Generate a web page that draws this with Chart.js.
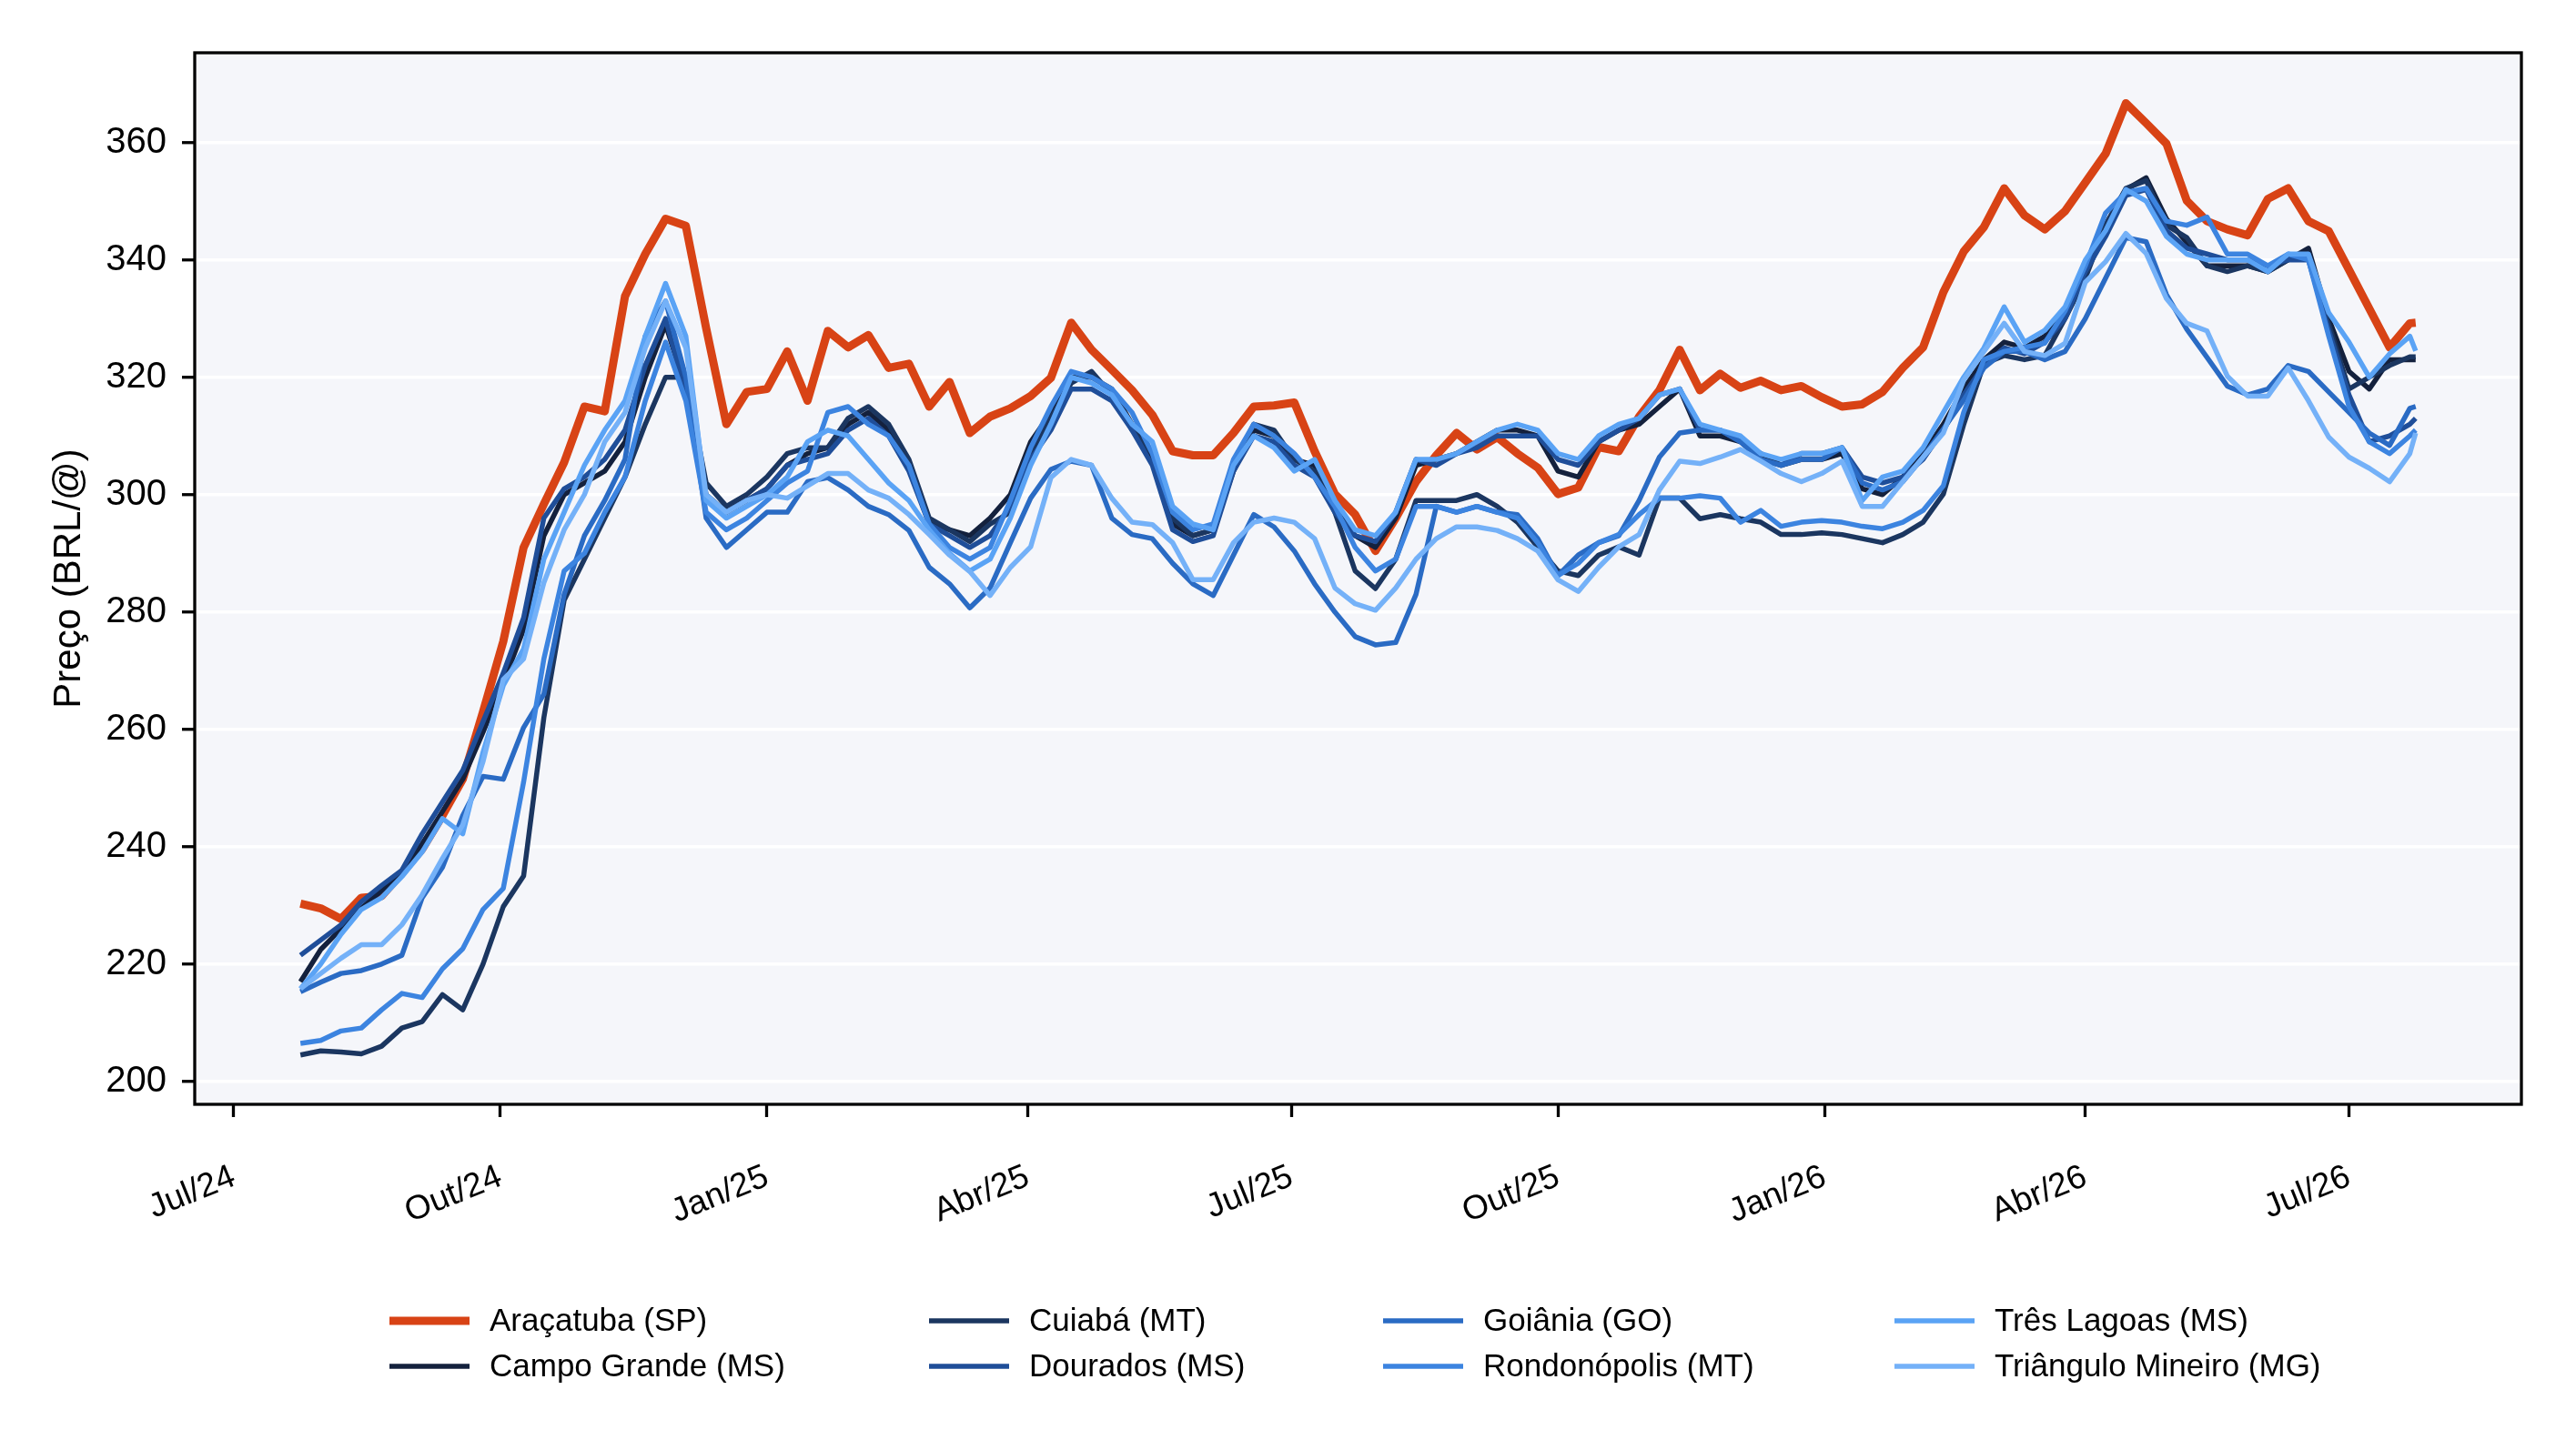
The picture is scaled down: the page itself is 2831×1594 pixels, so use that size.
<!DOCTYPE html>
<html lang="pt-BR">
<head>
<meta charset="utf-8">
<title>Preço do boi gordo por praça</title>
<script src="https://cdn.jsdelivr.net/npm/chart.js@4.4.1/dist/chart.umd.min.js"></script>
<style>
  html, body { margin: 0; padding: 0; background: #fff; }
  #wrap { width: 2831px; height: 1594px; }
</style>
</head>
<body>
<div id="wrap"><canvas id="grafico" width="2831" height="1594"></canvas></div>
<script>
// cotações semanais, de 24/07/2024 até 24/07/2026
const inicio = Date.UTC(2024, 6, 24)
const datas = []
for (let k = 0; k < 105; k++) datas.push(new Date(inicio + k * 7 * 864e5).toISOString().slice(0, 10))
datas.push('2026-07-24')

const aracatuba = [230.3,229.5,227.7,231.3,231.6,235.5,239.6,245.3,251.5,263.0, 275.0,291.0,298.4,305.5,315.0,314.2,333.8,341.0,347.0,345.8, 328.4,312.0,317.5,318.0,324.4,316.0,327.9,325.1,327.2,321.6, 322.3,315.0,319.2,310.5,313.3,314.7,316.8,319.9,329.3,324.7, 321.3,317.8,313.6,307.4,306.7,306.7,310.5,315.0,315.2,315.7, 307.4,300.1,296.6,290.4,296.0,302.2,306.7,310.5,307.7,309.8, 307.0,304.6,300.1,301.2,308.1,307.4,313.3,317.8,324.7,317.8, 320.6,318.2,319.4,317.8,318.5,316.6,315.0,315.4,317.5,321.6, 325.1,334.5,341.4,345.6,352.2,347.6,345.2,348.3,353.2,358.1, 366.7,363.3,359.8,350.1,346.6,345.2,344.2,350.4,352.2,346.6, 344.9,338.3,331.7,325.1,329.2,329.3]
const campoGrande = [217.0,222.5,226.0,229.5,232.5,235.5,240.5,246.0,251.5,259.5, 268.0,277.0,293.0,300.0,302.0,304.0,309.0,320.0,329.0,318.0, 300.0,297.0,299.0,301.0,305.0,307.0,308.0,312.0,314.0,311.0, 305.0,295.0,294.0,293.0,296.0,300.0,309.0,314.0,320.0,320.0, 318.0,312.0,306.0,295.0,293.0,294.0,304.0,311.0,310.0,306.0, 305.0,298.0,293.0,291.0,296.0,305.0,306.0,307.0,309.0,311.0, 311.0,310.0,304.0,303.0,309.0,311.0,312.0,315.0,318.0,310.0, 310.0,309.0,307.0,305.0,306.0,306.0,307.0,301.0,300.0,303.0, 307.0,312.0,318.0,323.0,326.0,325.0,327.0,331.0,339.0,346.0, 352.0,354.0,347.0,343.0,339.0,339.0,339.0,338.0,340.0,342.0, 330.0,321.0,318.0,323.0,323.0,323.0]
const cuiaba = [204.5,205.2,205.0,204.7,206.0,209.1,210.2,214.8,212.2,220.0, 229.8,235.0,262.0,282.0,289.0,296.0,303.0,312.0,320.0,320.0, 302.0,298.0,300.0,303.0,307.0,308.0,308.0,313.0,315.0,312.0, 306.0,296.0,294.0,292.0,295.0,297.0,307.0,313.0,319.0,321.0, 317.0,311.0,307.0,296.0,293.0,294.0,305.0,312.0,311.0,306.0, 304.0,297.0,287.0,284.0,289.0,299.0,299.0,299.0,300.0,298.0, 295.3,291.1,287.0,286.2,289.7,291.1,289.7,299.4,299.4,295.9, 296.6,295.9,295.3,293.2,293.2,293.5,293.2,292.5,291.8,293.2, 295.3,300.1,311.9,322.3,323.7,323.0,323.7,330.0,336.9,345.9, 352.2,353.5,345.9,343.8,339.0,338.0,339.0,338.0,340.0,341.0, 329.0,318.0,320.0,322.0,323.5,323.5]
const dourados = [221.5,224.1,226.7,230.6,233.4,236.0,242.2,247.6,253.0,261.3, 269.6,279.0,296.0,301.0,303.0,306.0,311.0,322.0,330.0,317.0, 299.0,297.0,299.0,301.0,305.0,306.0,307.0,311.0,313.0,310.0, 304.0,295.0,293.0,291.0,293.0,298.0,306.0,311.0,318.0,318.0, 316.0,311.0,305.0,294.0,292.0,293.0,304.0,310.0,309.0,305.0, 303.0,297.0,293.0,292.0,297.0,306.0,305.0,307.0,308.0,310.0, 310.0,310.0,306.0,305.0,309.0,311.0,313.0,317.0,318.0,311.0, 311.0,309.0,306.0,305.0,307.0,307.0,308.0,303.0,302.0,303.0, 306.0,311.0,317.0,322.0,325.0,324.0,326.0,330.0,338.0,344.0, 351.0,352.0,345.0,342.0,341.0,340.0,340.0,339.0,340.0,340.0, 328.0,317.0,309.0,310.0,312.0,313.0]
const goiania = [215.3,216.9,218.4,218.9,220.0,221.5,231.3,236.5,245.3,252.0, 251.5,260.3,266.0,283.0,293.0,299.0,306.0,327.0,333.0,320.0, 296.0,291.0,294.0,297.0,297.0,302.2,302.9,300.8,298.0,296.6, 293.9,287.6,284.8,280.7,284.1,291.8,299.4,304.3,305.7,305.0, 296.0,293.2,292.5,288.3,284.8,282.8,289.7,296.6,294.5,290.4, 284.8,280.0,275.8,274.4,274.8,283.0,298.0,297.0,298.0,297.0, 296.6,292.5,286.2,289.7,291.8,293.0,299.0,306.4,310.5,311.0, 311.0,309.0,306.0,305.0,306.0,306.0,308.0,302.0,300.8,302.2, 306.4,311.2,316.1,321.6,324.4,324.4,323.0,324.4,330.0,336.9, 343.8,343.1,334.1,328.2,323.4,318.5,317.0,318.0,322.0,321.0, 317.5,314.0,310.5,308.4,314.7,315.0]
const rondonopolis = [206.5,207.0,208.6,209.1,212.2,215.0,214.3,219.2,222.6,229.3, 232.9,251.0,272.0,287.0,290.0,297.0,303.0,316.0,326.0,316.0, 297.0,294.0,296.0,299.0,302.0,304.0,314.0,315.0,312.0,310.0, 305.0,295.0,291.0,289.0,291.0,299.0,308.0,315.0,321.0,320.0, 318.0,314.0,307.0,297.0,294.0,295.0,306.0,312.0,310.0,307.0, 303.0,298.0,291.0,287.0,289.0,298.0,298.0,297.0,298.0,297.0, 296.0,291.8,286.2,288.3,291.8,293.2,296.6,299.4,299.4,299.8, 299.4,295.3,297.3,294.6,295.3,295.6,295.3,294.6,294.2,295.3, 297.3,301.5,314.0,323.0,324.4,325.1,325.8,331.3,339.0,348.0, 351.5,352.2,346.6,345.9,347.3,341.0,341.0,339.0,341.0,340.0, 327.0,315.0,309.0,307.0,310.0,311.0]
const tresLagoas = [215.8,220.0,225.1,229.3,231.3,234.9,239.1,244.8,242.2,256.1, 267.5,273.7,289.0,297.0,305.0,311.0,316.0,327.0,336.0,327.0, 299.0,296.0,298.0,300.0,303.0,309.0,311.0,310.0,306.0,302.0, 299.0,294.0,290.0,287.0,289.0,296.0,305.0,312.0,320.0,319.0, 317.0,312.0,309.0,298.0,295.0,294.0,305.0,310.0,308.0,304.0, 306.0,299.0,294.0,293.0,297.0,306.0,306.0,307.0,309.0,311.0, 312.0,311.0,307.0,306.0,310.0,312.0,313.0,317.0,318.0,312.0, 311.0,310.0,307.0,306.0,307.0,307.0,308.0,299.0,303.0,304.0, 308.0,314.0,320.0,325.0,332.0,326.0,328.0,332.0,340.0,345.0, 352.0,350.0,344.0,341.0,340.0,340.0,340.0,338.0,341.0,341.0, 331.0,326.0,320.0,324.0,327.0,324.5]
const trianguloMineiro = [215.8,218.4,221.0,223.3,223.3,226.7,231.8,238.0,243.7,254.5, 268.5,272.0,285.0,294.0,300.0,309.0,314.0,325.0,333.0,325.0, 300.0,297.0,299.0,300.0,299.4,301.5,303.6,303.6,300.8,299.4, 296.6,293.2,289.7,286.9,282.8,287.6,291.1,302.9,306.0,305.0, 299.4,295.3,294.9,291.8,285.5,285.5,291.8,295.3,296.0,295.3, 292.5,284.1,281.4,280.3,284.1,289.0,292.5,294.5,294.5,293.9, 292.5,290.4,285.5,283.5,287.6,291.1,293.2,300.8,305.7,305.3, 306.4,307.7,305.7,303.6,302.2,303.6,305.7,298.0,298.0,302.2, 306.4,310.5,319.5,324.4,329.2,324.4,323.7,325.8,336.2,339.7, 344.5,341.1,333.4,329.2,327.9,320.2,316.8,316.8,321.6,316.0, 309.8,306.4,304.5,302.2,307.0,310.5]

const pracas = ['Araçatuba (SP)', 'Campo Grande (MS)', 'Cuiabá (MT)', 'Dourados (MS)', 'Goiânia (GO)', 'Rondonópolis (MT)', 'Três Lagoas (MS)', 'Triângulo Mineiro (MG)']
const valores = [aracatuba, campoGrande, cuiaba, dourados, goiania, rondonopolis, tresLagoas, trianguloMineiro]
const cores = ['#d84315', '#14213d', '#1b3660', '#1f4e99', '#2a6bc4', '#3c84e0', '#5aa3f5', '#74b1f8']

const datasTicks = ['2024-07-01', '2024-10-01', '2025-01-01', '2025-04-01', '2025-07-01', '2025-10-01', '2026-01-01', '2026-04-01', '2026-07-01']
const rotulosX = ['Jul/24', 'Out/24', 'Jan/25', 'Abr/25', 'Jul/25', 'Out/25', 'Jan/26', 'Abr/26', 'Jul/26']
const ticksY = [200, 220, 240, 260, 280, 300, 320, 340, 360]

const fonte = '"Liberation Sans", Arial, sans-serif'
const dia = s => (Date.parse(s) - Date.parse('2024-07-01')) / 864e5
const xs = datas.map(dia)
const margem = 0.05 * (xs[xs.length - 1] - xs[0])

const fundo = {
  id: 'fundo',
  beforeDraw(chart) {
    const {ctx, chartArea: a} = chart
    ctx.save()
    ctx.fillStyle = '#f5f6fa'
    ctx.fillRect(a.left, a.top, a.right - a.left, a.bottom - a.top)
    ctx.restore()
  }
}

const moldura = {
  id: 'moldura',
  afterDatasetsDraw(chart) {
    const {ctx, chartArea: a} = chart
    ctx.save()
    ctx.strokeStyle = '#000'
    ctx.lineWidth = 3.3
    ctx.strokeRect(a.left, a.top, a.right - a.left, a.bottom - a.top)
    ctx.restore()
  }
}

// legenda em 4 colunas, preenchida por coluna
const colunasLegenda = [428, 1021, 1520, 2082]
const linhasLegenda = [1452, 1502]
const legenda = {
  id: 'legenda',
  afterDraw(chart) {
    const ctx = chart.ctx
    ctx.save()
    ctx.font = '35px ' + fonte
    ctx.textBaseline = 'middle'
    ctx.fillStyle = '#000'
    chart.data.datasets.forEach((ds, i) => {
      const x0 = colunasLegenda[Math.floor(i / 2)]
      const y = linhasLegenda[i % 2]
      ctx.strokeStyle = ds.borderColor
      ctx.lineWidth = ds.borderWidth
      ctx.beginPath()
      ctx.moveTo(x0, y)
      ctx.lineTo(x0 + 88, y)
      ctx.stroke()
      ctx.fillText(ds.label, x0 + 110, y + 1)
    })
    ctx.restore()
  }
}

const grafico = new Chart(document.getElementById('grafico'), {
  type: 'line',
  data: {
    datasets: pracas.map((nome, i) => ({
      label: nome,
      data: valores[i].map((v, j) => ({x: xs[j], y: v})),
      borderColor: cores[i],
      backgroundColor: cores[i],
      borderWidth: i === 0 ? 9 : 5.5,
      borderJoinStyle: 'round',
      pointRadius: 0,
      tension: 0,
      fill: false,
      order: -i
    }))
  },
  options: {
    responsive: false,
    animation: false,
    events: [],
    layout: {padding: {top: 58, right: 60, bottom: 0, left: 0}},
    plugins: {legend: {display: false}, tooltip: {enabled: false}},
    scales: {
      x: {
        type: 'linear',
        min: xs[0] - margem,
        max: xs[xs.length - 1] + margem,
        afterFit: s => { s.height = 380 },
        afterBuildTicks: s => { s.ticks = datasTicks.map(d => ({value: dia(d)})) },
        border: {display: false},
        grid: {drawOnChartArea: false, drawTicks: true, tickLength: 14, tickWidth: 3.3, tickColor: '#000'},
        ticks: {
          autoSkip: false,
          minRotation: 22,
          maxRotation: 22,
          padding: 44,
          color: '#000',
          font: {family: fonte, size: 37},
          callback: (v, i) => rotulosX[i]
        }
      },
      y: {
        min: 196.1,
        max: 375.3,
        afterFit: s => { s.width = 214 },
        afterBuildTicks: s => { s.ticks = ticksY.map(v => ({value: v})) },
        border: {display: false},
        grid: {color: '#ffffff', lineWidth: 3.5, drawTicks: true, tickLength: 14, tickWidth: 3.3, tickColor: '#000'},
        ticks: {padding: 17, color: '#000', font: {family: fonte, size: 40}},
        title: {display: true, text: 'Preço (BRL/@)', color: '#000', font: {family: fonte, size: 42}, padding: {top: 51, bottom: 0}}
      }
    }
  },
  plugins: [fundo, moldura, legenda]
})
</script>
</body>
</html>
